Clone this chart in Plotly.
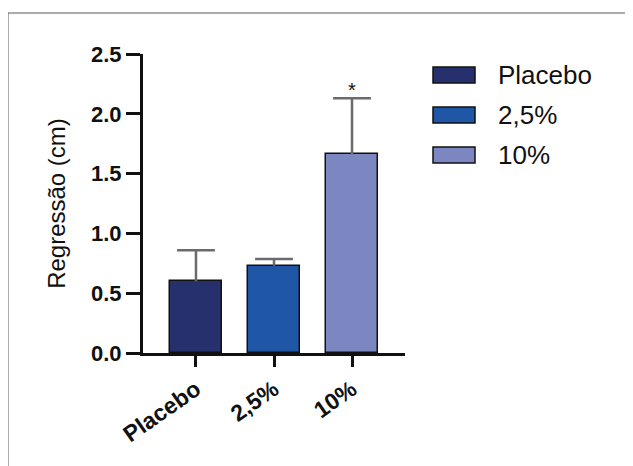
import plotly.graph_objects as go

# ---- data ----
categories = ["Placebo", "2,5%", "10%"]
means = [0.60, 0.73, 1.66]
err_plus = [0.26, 0.055, 0.47]
bar_colors = ["#26306C", "#1F56A5", "#7C86C1"]
y_ticks = [0.0, 0.5, 1.0, 1.5, 2.0, 2.5]
y_title = "Regressão (cm)"
signif = ["", "", "*"]

# ---- layout geometry (reference pixels; page body has an 8px margin) ----
OFF = 8
W, H = 633 - OFF, 466 - OFF
AX_L, AX_R, AX_T, AX_B = 143, 405, 54, 353   # plot area in reference pixels
L, T = AX_L - OFF, AX_T - OFF
R, B = W - (AX_R - OFF), H - (AX_B - OFF)
PW, PH = AX_R - AX_L, AX_B - AX_T

def px(x):
    return (x - AX_L) / PW

def py(y):
    return (AX_B - y) / PH

fig = go.Figure()
fig.add_trace(go.Bar(
    x=categories, y=means,
    width=0.667,
    marker=dict(color=bar_colors, line=dict(color="#111111", width=1.5)),
    error_y=dict(type="data", array=err_plus, arrayminus=[0] * len(means),
                 symmetric=False, color="#6b6b6b", thickness=2.5, width=0),
    showlegend=False, hoverinfo="skip",
))
# error bar caps
fig.add_trace(go.Scatter(
    x=categories, y=[m + e for m, e in zip(means, err_plus)],
    mode="markers",
    marker=dict(symbol="line-ew", size=27, line=dict(color="#6b6b6b", width=2.5)),
    showlegend=False, hoverinfo="skip",
))

# significance markers
for c, m, e, s in zip(categories, means, err_plus, signif):
    if s:
        fig.add_annotation(x=c, y=m + e, text=s, showarrow=False,
                           yanchor="bottom", yshift=-5,
                           font=dict(size=20, color="#111111", family="Liberation Sans"))

shapes = []
# outer frame
shapes.append(dict(type="rect", xref="paper", yref="paper",
                   x0=px(8), x1=px(700), y0=py(13), y1=py(520),
                   line=dict(color="#5a5a5a", width=1), fillcolor="rgba(0,0,0,0)",
                   layer="below"))
# custom legend
for i, (c, col) in enumerate(zip(categories, bar_colors)):
    yc = 75 + 40 * i
    shapes.append(dict(type="rect", xref="paper", yref="paper",
                       x0=px(433), x1=px(475), y0=py(yc - 8), y1=py(yc + 8),
                       fillcolor=col, line=dict(color="#111111", width=1.5)))
    fig.add_annotation(xref="paper", yref="paper", x=px(496), y=py(yc),
                       text=c, showarrow=False, xanchor="left", yanchor="middle",
                       font=dict(size=26, color="#111111", family="Liberation Sans"))

fig.update_layout(
    width=W, height=H,
    margin=dict(l=L, r=R, t=T, b=B, pad=0),
    paper_bgcolor="white", plot_bgcolor="white",
    shapes=shapes,
    showlegend=False,
    bargap=0,
)
fig.update_yaxes(
    range=[0, 2.5], tickvals=y_ticks, tickformat=".1f",
    showgrid=False, zeroline=False,
    showline=True, linecolor="#111111", linewidth=3,
    ticks="outside", ticklen=14, tickwidth=3, tickcolor="#111111",
    tickfont=dict(size=22, color="#111111", family="Liberation Sans", weight="bold"),
    title=dict(text=y_title, standoff=19,
               font=dict(size=24, color="#111111", family="Liberation Sans")),
)
fig.update_xaxes(
    range=[-0.679, 2.679],
    showgrid=False, zeroline=False,
    showline=True, linecolor="#111111", linewidth=3,
    ticks="outside", ticklen=11, tickwidth=3, tickcolor="#111111",
    tickangle=-35,
    tickfont=dict(size=23, color="#111111", family="Liberation Sans", weight="bold"),
)

fig.write_html("out.html")
